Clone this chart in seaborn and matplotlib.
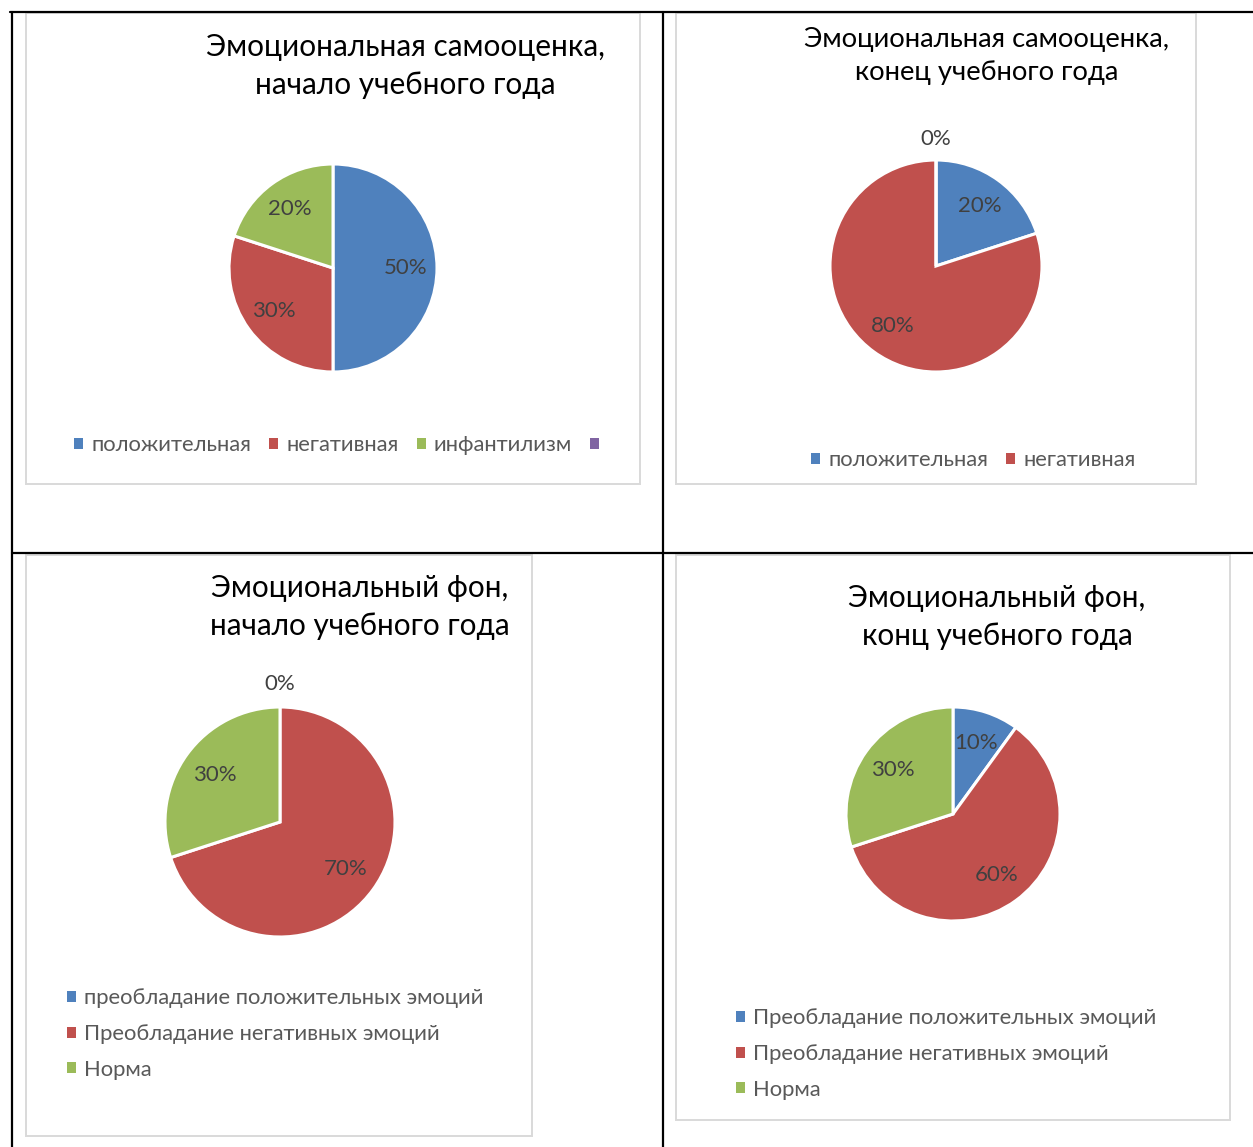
import matplotlib
matplotlib.use("Agg")
import matplotlib.pyplot as plt
import seaborn as sns
import numpy as np
from matplotlib.lines import Line2D
from matplotlib.patches import Rectangle, Patch

# ---------------- data ----------------
titles = [
    "Эмоциональная самооценка,\nначало учебного года",
    "Эмоциональная самооценка,\nконец учебного года",
    "Эмоциональный фон,\nначало учебного года",
    "Эмоциональный фон,\nконц учебного года",
]
cats1 = ["положительная", "негативная", "инфантилизм", ""]
vals1 = [50, 30, 20]
cats2 = ["положительная", "негативная", "инфантилизм"]
vals2 = [20, 80, 0]
legend2 = ["положительная", "негативная"]
cats3 = ["преобладание положительных эмоций", "Преобладание негативных эмоций", "Норма"]
vals3 = [0, 70, 30]
cats4 = ["Преобладание положительных эмоций", "Преобладание негативных эмоций", "Норма"]
vals4 = [10, 60, 30]

# ---------------- style ----------------
sns.set_theme(style="white")
FONT = ["Lato", "DejaVu Sans"]
plt.rcParams["font.family"] = FONT
palette = sns.color_palette(["#4F81BD", "#C0504D", "#9BBB59", "#8064A2"])

W, H = 1253, 1147
fig = plt.figure(figsize=(W / 100, H / 100), dpi=100)
fig.patch.set_facecolor("white")

def fx(x):
    return x / W

def fy(y):
    return 1 - y / H

# table grid lines
for (x0, y0, x1, y1) in [(10, 12, 1253, 12), (12, 12, 12, 1147), (663, 12, 663, 1147), (12, 553, 1253, 553)]:
    fig.add_artist(Line2D([fx(x0), fx(x1)], [fy(y0), fy(y1)], color="black", lw=1.6))

# chart frames
for (x0, y0, x1, y1) in [(26, 13, 640, 484), (676, 13, 1196, 484), (26, 555, 532, 1136), (676, 555, 1230, 1120)]:
    fig.add_artist(Rectangle((fx(x0), fy(y1)), fx(x1) - fx(x0), fy(y0) - fy(y1),
                             fill=False, edgecolor="#D9D9D9", lw=1.4))

def draw_pie(cx, cy, r, vals):
    ax = fig.add_axes([fx(cx - r), fy(cy + r), 2 * r / W, 2 * r / H])
    wedges, _ = ax.pie(vals, colors=palette[:len(vals)], startangle=90, counterclock=False,
                       radius=1, wedgeprops=dict(edgecolor="white", linewidth=2.2))
    ax.set_xlim(-1, 1)
    ax.set_ylim(-1, 1)
    ax.set_axis_off()
    total = sum(vals)
    for w, v in zip(wedges, vals):
        if v == 0:
            ang = np.deg2rad(w.theta1)
            d = 1.2
        else:
            ang = np.deg2rad((w.theta1 + w.theta2) / 2)
            d = 0.7
        ax.text(d * np.cos(ang), d * np.sin(ang), f"{v / total * 100:.0f}%",
                ha="center", va="center", fontsize=16, color="#404040", clip_on=False)
    return ax

draw_pie(333, 268, 104, vals1)
draw_pie(936, 266, 106, vals2)
draw_pie(280, 822, 115, vals3)
draw_pie(953, 814, 107, vals4)

# titles
def title(x, y, txt, size):
    fig.text(fx(x), fy(y), txt, ha="center", va="center", fontsize=size, color="black",
             linespacing=1.4)

title(405, 66, titles[0], 21.4)
title(987, 56, titles[1], 19.7)
title(360, 607, titles[2], 21.3)
title(997, 617, titles[3], 21.3)

def handles(n):
    return [Patch(facecolor=palette[i], edgecolor="none") for i in range(n)]

lkw = dict(frameon=False, handlelength=0.41, handleheight=0.41, handletextpad=0.37,
           borderpad=0, borderaxespad=0, fontsize=15.8, labelcolor="#595959")

fig.legend(handles(4), cats1, loc="center left", bbox_to_anchor=(fx(74), fy(445)),
           ncol=4, columnspacing=0.82, **lkw)
fig.legend(handles(2), legend2, loc="center left", bbox_to_anchor=(fx(811), fy(460)),
           ncol=2, columnspacing=0.82, **lkw)
fig.legend(handles(3), cats3, loc="center left", bbox_to_anchor=(fx(67), fy(1034)),
           ncol=1, labelspacing=0.71, **lkw)
fig.legend(handles(3), cats4, loc="center left", bbox_to_anchor=(fx(736), fy(1054)),
           ncol=1, labelspacing=0.71, **lkw)

fig.savefig("out.png", dpi=100, facecolor="white")
